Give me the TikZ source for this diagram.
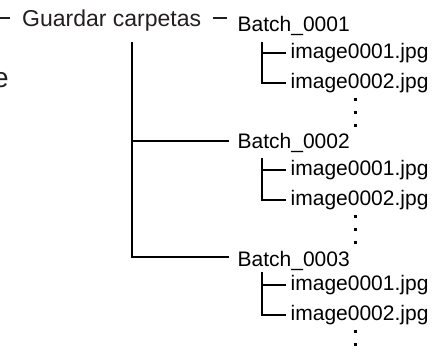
\documentclass[tikz,border=0pt]{standalone}
\usepackage{fontspec}
\setmainfont{Liberation Sans}
\definecolor{ink}{HTML}{231F20}
\begin{document}
\begin{tikzpicture}[x=1pt,y=-1pt,
  head/.style={inner sep=0pt, anchor=base west, text=ink, font=\fontsize{23}{26}\selectfont},
  cut/.style={inner sep=0pt, anchor=base east, text=ink, font=\fontsize{28}{32}\selectfont},
  item/.style={inner sep=0pt, anchor=base west, text=black, font=\fontsize{21}{24}\selectfont},
  trunk/.style={draw=black, line width=2.2pt},
  twig/.style={draw=black, line width=2.6pt},
  headdash/.style={draw=ink, line width=2pt},
  dotmark/.style={fill=black}]
\useasboundingbox (0,0) rectangle (437,356);

% texts
\node[cut] (e) at (9,87) {e};
\node[head] (g) at (22,27) {Guardar carpetas};
\node[item] (b1) at (237.5,31) {Batch\_0001};
\node[item] (i11) at (290.5,58) {image0001.jpg};
\node[item] (i12) at (290.5,88) {image0002.jpg};
\node[item] (b2) at (237.5,148) {Batch\_0002};
\node[item] (i21) at (290.5,175) {image0001.jpg};
\node[item] (i22) at (290.5,205) {image0002.jpg};
\node[item] (b3) at (237.5,266) {Batch\_0003};
\node[item] (i31) at (290.5,290) {image0001.jpg};
\node[item] (i32) at (290.5,320) {image0002.jpg};

% short dashes around the heading
\coordinate (L0) at (0,18);
\coordinate (L1) at (10,18);
\draw[headdash] (L0) -- (L1);
\coordinate (R0) at (213,18);
\coordinate (R1) at (227,18);
\draw[headdash] (R0) -- (R1);

% main trunk
\coordinate (top) at (132,42);
\coordinate (B2) at ([shift={(-9pt,7pt)}]b2.base west);
\coordinate (B3) at ([shift={(-9pt,9pt)}]b3.base west);
\draw[trunk] (top) |- (B3);
\draw[trunk] (top |- B2) -- (B2);

% sub-trees
\foreach \b/\f/\s/\d in {b1/i11/i12/11, b2/i21/i22/10, b3/i31/i32/6}{
  \coordinate (V\b) at ([xshift=24.5pt,yshift=-\d pt]\b.base west);
  \coordinate (H\f) at ([xshift=-4.5pt,yshift=5pt]\f.base west);
  \coordinate (H\s) at ([xshift=-4.5pt,yshift=5pt]\s.base west);
  \draw[twig] (V\b) |- (H\s);
  \draw[twig] (V\b |- H\f) -- (H\f);
  \foreach \k in {11,24,37}{
    \fill[dotmark] ([xshift=63pt,yshift=-\k pt]\s.base west) ++(0,-1.5) rectangle ++(3,3);
  }
}
\end{tikzpicture}
\end{document}
